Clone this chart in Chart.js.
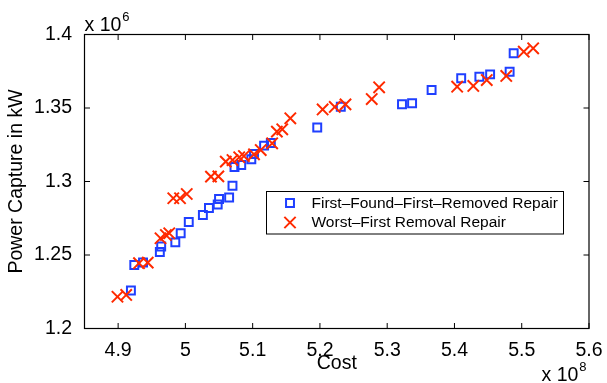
<!DOCTYPE html>
<html lang="en">
<head>
<meta charset="UTF-8" />
<title>Power Capture vs Cost</title>
<script src="https://cdn.jsdelivr.net/npm/chart.js"></script>
<style>
  html, body { margin: 0; padding: 0; background: #fff; }
</style>
</head>
<body>
<canvas id="chart" width="607" height="383"></canvas>
<script>
  // axis ticks (cost in units of 1e8, power in units of 1e6 kW)
  const xTicks = [4.9, 5.0, 5.1, 5.2, 5.3, 5.4, 5.5, 5.6];
  const yTicks = [1.2, 1.25, 1.3, 1.35, 1.4];
  const seriesNames = ['First\u2013Found\u2013First\u2013Removed Repair', 'Worst\u2013First Removal Repair'];

  // First-Found-First-Removed repair
  const fifrCost = [4.919, 4.924, 4.937, 4.962, 4.964, 4.985, 4.993, 5.005, 5.026, 5.035,
                    5.048, 5.050, 5.065, 5.070, 5.073, 5.083, 5.098, 5.102, 5.117, 5.127,
                    5.196, 5.231, 5.322, 5.337, 5.366, 5.410, 5.437, 5.453, 5.482, 5.488];
  const fifrPower = [1.2259, 1.2432, 1.2449, 1.2520, 1.2558, 1.2586, 1.2648, 1.2724, 1.2772, 1.2820,
                     1.2844, 1.2881, 1.2891, 1.2971, 1.3099, 1.3112, 1.3151, 1.3187, 1.3244, 1.3262,
                     1.3367, 1.3509, 1.3525, 1.3532, 1.3622, 1.3702, 1.3713, 1.3729, 1.3747, 1.3872];

  // Worst-First removal repair
  const wfrCost = [4.899, 4.912, 4.931, 4.944, 4.963, 4.971, 4.976, 4.982, 4.992, 5.002,
                   5.038, 5.049, 5.060, 5.070, 5.080, 5.087, 5.102, 5.112, 5.129, 5.136,
                   5.144, 5.156, 5.204, 5.222, 5.238, 5.277, 5.288, 5.404, 5.428, 5.448,
                   5.477, 5.503, 5.517];
  const wfrPower = [1.2216, 1.2228, 1.2444, 1.2448, 1.2614, 1.2636, 1.2648, 1.2886, 1.2886, 1.2915,
                    1.3033, 1.3035, 1.3135, 1.3146, 1.3165, 1.3173, 1.3185, 1.3214, 1.3260, 1.3339,
                    1.3355, 1.3430, 1.3490, 1.3507, 1.3525, 1.3561, 1.3641, 1.3645, 1.3650, 1.3690,
                    1.3718, 1.3883, 1.3906];

  const BLUE = '#1f3fff';
  const RED = '#ff2a00';
  const FONT = 'Liberation Sans, Helvetica, Arial, sans-serif';

  const toPoints = (xs, ys) => xs.map((x, i) => ({ x: x, y: ys[i] }));

  // box, inward tick marks, legend and the exponent labels
  const matlabAxes = {
    id: 'matlabAxes',
    afterDraw(chart) {
      const ctx = chart.ctx;
      const a = chart.chartArea;
      const xs = chart.scales.x, ys = chart.scales.y;
      const tl = 5.5;
      ctx.save();
      ctx.strokeStyle = '#000';
      ctx.lineWidth = 1;
      ctx.beginPath();
      xs.ticks.forEach(t => {
        const px = xs.getPixelForValue(t.value);
        ctx.moveTo(px, a.bottom); ctx.lineTo(px, a.bottom - tl);
        ctx.moveTo(px, a.top); ctx.lineTo(px, a.top + tl);
      });
      ys.ticks.forEach(t => {
        const py = ys.getPixelForValue(t.value);
        ctx.moveTo(a.left, py); ctx.lineTo(a.left + tl, py);
        ctx.moveTo(a.right, py); ctx.lineTo(a.right - tl, py);
      });
      ctx.stroke();
      ctx.lineWidth = 1.2;
      ctx.strokeRect(a.left, a.top, a.right - a.left, a.bottom - a.top);

      // legend
      const lx = 266.5, ly = 191.5, lw = 297, lh = 42.5;
      ctx.fillStyle = '#fff';
      ctx.fillRect(lx, ly, lw, lh);
      ctx.lineWidth = 1;
      ctx.strokeRect(lx, ly, lw, lh);
      ctx.font = '15.5px ' + FONT;
      ctx.textBaseline = 'middle';
      ctx.textAlign = 'left';
      chart.data.datasets.forEach((ds, i) => {
        const cy = ly + 11.5 + i * 19.5;
        ctx.strokeStyle = ds.borderColor;
        ctx.fillStyle = 'rgba(0,0,0,0)';
        ctx.lineWidth = ds.borderWidth;
        Chart.helpers.drawPoint(ctx, { pointStyle: ds.pointStyle, radius: ds.pointRadius, rotation: 0, borderWidth: ds.borderWidth }, lx + 23.5, cy);
        ctx.fillStyle = '#000';
        ctx.fillText(ds.label, lx + 45, cy + 0.5);
      });

      // exponent labels
      ctx.fillStyle = '#000';
      ctx.textBaseline = 'alphabetic';
      ctx.font = '19.5px ' + FONT;
      const w6 = ctx.measureText('x 10').width;
      ctx.fillText('x 10', a.left, 31);
      ctx.fillText('x 10', 541.5, 381);
      ctx.font = '13px ' + FONT;
      ctx.fillText('6', a.left + w6 + 1, 21);
      ctx.fillText('8', 541.5 + w6 + 1, 371);
      ctx.restore();
    }
  };

  new Chart(document.getElementById('chart'), {
    type: 'scatter',
    data: {
      datasets: [
        {
          label: seriesNames[0],
          data: toPoints(fifrCost, fifrPower),
          pointStyle: 'rect',
          pointRadius: 5.6,
          borderWidth: 2,
          borderColor: BLUE,
          backgroundColor: 'rgba(0,0,0,0)',
          order: 1
        },
        {
          label: seriesNames[1],
          data: toPoints(wfrCost, wfrPower),
          pointStyle: 'crossRot',
          pointRadius: 8,
          borderWidth: 2,
          borderColor: RED,
          backgroundColor: RED,
          order: 0
        }
      ]
    },
    options: {
      responsive: false,
      animation: false,
      layout: { padding: { top: 34.5, right: 18, left: 0, bottom: 0 } },
      plugins: { legend: { display: false }, tooltip: { enabled: false } },
      scales: {
        x: {
          type: 'linear',
          min: 4.85,
          max: 5.6,
          grid: { display: false },
          border: { display: false },
          afterBuildTicks: s => { s.ticks = xTicks.map(v => ({ value: v })); },
          afterFit: s => { s.height = 54.5; },
          ticks: {
            padding: 2,
            color: '#000',
            font: { family: FONT, size: 19.5 },
            maxRotation: 0,
            callback: v => String(+v.toFixed(2))
          },
          title: {
            display: true,
            text: 'Cost',
            color: '#000',
            font: { family: FONT, size: 19.5 },
            padding: { top: 0, bottom: 8 }
          }
        },
        y: {
          type: 'linear',
          min: 1.2,
          max: 1.4,
          grid: { display: false },
          border: { display: false },
          afterBuildTicks: s => { s.ticks = yTicks.map(v => ({ value: v })); },
          afterFit: s => { s.width = 84.5; },
          ticks: {
            padding: 4.5,
            color: '#000',
            font: { family: FONT, size: 19.5 },
            callback: v => String(+v.toFixed(2))
          },
          title: {
            display: true,
            text: 'Power Capture in kW',
            color: '#000',
            font: { family: FONT, size: 19.5 },
            padding: { top: 5, bottom: 0 }
          }
        }
      }
    },
    plugins: [matlabAxes]
  });
</script>
</body>
</html>
